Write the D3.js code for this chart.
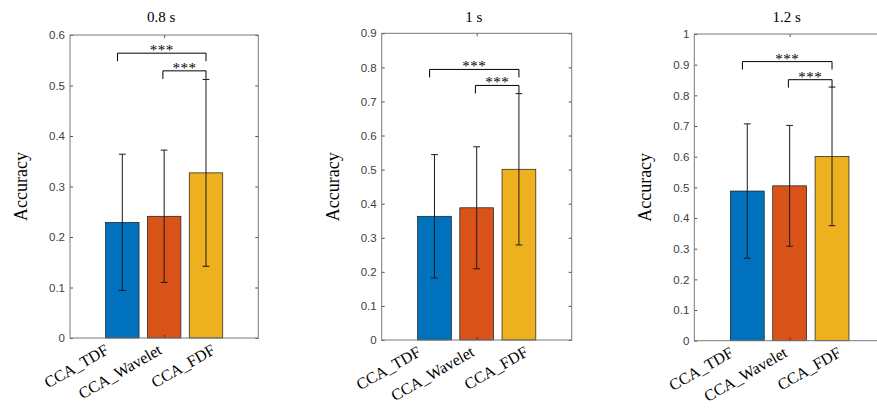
<!DOCTYPE html>
<html>
<head>
<meta charset="utf-8">
<script src="https://cdn.jsdelivr.net/npm/d3@7"></script>
<style>
  html, body { margin: 0; padding: 0; background: #fff; }
  svg { display: block; }
</style>
</head>
<body>
<svg id="chart" width="877" height="408"></svg>
<script>
// ---------- data ----------
const categories = ["CCA_TDF", "CCA_Wavelet", "CCA_FDF"];
const panelTitles = ["0.8 s", "1 s", "1.2 s"];
const barColors = ["#0072BD", "#D95319", "#EDB120"];

const means08 = [0.229, 0.241, 0.327];
const errs08  = [0.135, 0.131, 0.185];
const means10 = [0.363, 0.388, 0.501];
const errs10  = [0.181, 0.179, 0.222];
const means12 = [0.488, 0.505, 0.601];
const errs12  = [0.219, 0.197, 0.226];

const yMaxes = [0.6, 0.9, 1.0];
const yTickStep = 0.1;

// significance brackets: [from category position, to category position]
const bracketSpans = [[0.885, 3], [1.97, 3]];
const bracketLabels = ["***", "***"];
const bracketLevels08 = [0.564, 0.529];
const bracketLevels10 = [0.794, 0.747];
const bracketLevels12 = [0.910, 0.851];

const yLabel = "Accuracy";

// ---------- layout ----------
const frames = [
  { left: 70,    right: 258.3, top: 35,   bottom: 338 },
  { left: 381.7, right: 571.7, top: 33.3, bottom: 340 },
  { left: 694.3, right: 885,   top: 34,   bottom: 340.7 }
];
const panelData = [
  { means: means08, errs: errs08, levels: bracketLevels08 },
  { means: means10, errs: errs10, levels: bracketLevels10 },
  { means: means12, errs: errs12, levels: bracketLevels12 }
];

const svg = d3.select("#chart");
const axisColor = "#262626";
const serif = "'Liberation Serif', 'Times New Roman', serif";
const sans = "'Liberation Sans', Arial, sans-serif";

frames.forEach((f, p) => {
  const d = panelData[p];
  const g = svg.append("g");
  const x = d3.scaleLinear().domain([2 - 2.25, 2 + 2.25]).range([f.left, f.right]);
  const y = d3.scaleLinear().domain([0, yMaxes[p]]).range([f.bottom, f.top]);
  const barW = x(0.8) - x(0);
  const ticks = d3.range(0, yMaxes[p] + 1e-9, yTickStep).map(v => +v.toFixed(1));
  const fmt = v => (v === 0 ? "0" : v === 1 ? "1" : d3.format(".1f")(v));

  // bars
  g.selectAll("rect.bar").data(categories).join("rect")
    .attr("x", (c, i) => x(i + 1) - barW / 2)
    .attr("y", (c, i) => y(d.means[i]))
    .attr("width", barW)
    .attr("height", (c, i) => y(0) - y(d.means[i]))
    .attr("fill", (c, i) => barColors[i])
    .attr("stroke", "#1a1a1a")
    .attr("stroke-width", 0.7);

  // error bars
  const capW = 3.4;
  categories.forEach((c, i) => {
    const cx = x(i + 1);
    const lo = y(d.means[i] - d.errs[i]), hi = y(d.means[i] + d.errs[i]);
    g.append("line").attr("x1", cx).attr("x2", cx).attr("y1", lo).attr("y2", hi)
      .attr("stroke", "#1a1a1a").attr("stroke-width", 1);
    [lo, hi].forEach(yy => g.append("line")
      .attr("x1", cx - capW).attr("x2", cx + capW).attr("y1", yy).attr("y2", yy)
      .attr("stroke", "#1a1a1a").attr("stroke-width", 1));
  });

  // axes (inside ticks)
  const yl = g.append("g").attr("transform", `translate(${f.left},0)`)
    .call(d3.axisLeft(y).tickValues(ticks).tickFormat(fmt).tickSize(-3).tickPadding(5));
  const yr = g.append("g").attr("transform", `translate(${f.right},0)`)
    .call(d3.axisRight(y).tickValues(ticks).tickFormat("").tickSize(-3));
  const xb = g.append("g").attr("transform", `translate(0,${f.bottom})`)
    .call(d3.axisBottom(x).tickValues([2]).tickFormat("").tickSize(-3));
  const xt = g.append("g").attr("transform", `translate(0,${f.top})`)
    .call(d3.axisTop(x).tickValues([2]).tickFormat("").tickSize(-3));
  [yl, yr, xb, xt].forEach(a => {
    a.select(".domain").remove();
    a.selectAll(".tick line").attr("stroke", axisColor).attr("stroke-width", 0.8);
  });
  yl.selectAll(".tick text").attr("font-family", sans).attr("font-size", 11.5)
    .attr("fill", "#404040");

  // box
  g.append("rect").attr("x", f.left).attr("y", f.top)
    .attr("width", f.right - f.left).attr("height", f.bottom - f.top)
    .attr("fill", "none").attr("stroke", "#7a7a7a").attr("stroke-width", 1);

  // significance brackets
  const legLen = 8;
  bracketSpans.forEach((span, k) => {
    const x1 = x(span[0]), x2 = x(span[1]), yy = y(d.levels[k]);
    g.append("path")
      .attr("d", `M${x1},${yy + legLen}V${yy}H${x2}V${yy + legLen}`)
      .attr("fill", "none").attr("stroke", "#000").attr("stroke-width", 1);
    g.append("text").attr("x", (x1 + x2) / 2).attr("y", yy + 2)
      .attr("text-anchor", "middle").attr("font-family", serif)
      .attr("font-size", 15).attr("letter-spacing", 0.5).attr("fill", "#000")
      .text(bracketLabels[k]);
  });

  // title
  g.append("text").attr("x", x(2) - 3).attr("y", 21.5)
    .attr("text-anchor", "middle").attr("font-family", serif).attr("font-size", 15)
    .attr("fill", "#000").text(panelTitles[p]);

  // y label
  const ylx = f.left - 43;
  const yly = (f.top + f.bottom) / 2;
  g.append("text").attr("transform", `rotate(-90 ${ylx} ${yly})`)
    .attr("x", ylx).attr("y", yly)
    .attr("text-anchor", "middle").attr("font-family", serif).attr("font-size", 18)
    .attr("fill", "#000").text(yLabel);

  // x tick labels (rotated 30 degrees)
  categories.forEach((c, i) => {
    const lx = x(2 + (i - 1) * 1.27 - 0.1) + 3;
    const ly = f.bottom + 15;
    g.append("text")
      .attr("x", lx).attr("y", ly)
      .attr("transform", `rotate(-30 ${lx} ${ly})`)
      .attr("text-anchor", "end").attr("font-family", serif).attr("font-size", 16)
      .attr("fill", "#000").text(c);
  });
});
</script>
</body>
</html>
